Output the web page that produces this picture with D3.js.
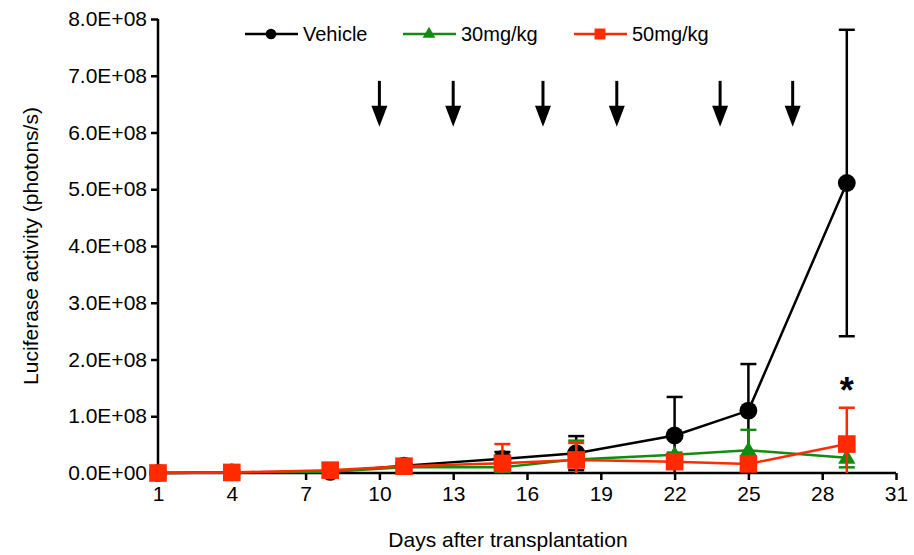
<!DOCTYPE html>
<html>
<head>
<meta charset="utf-8">
<script src="https://cdn.jsdelivr.net/npm/d3@7"></script>
<style>
  body { margin: 0; background: #fff; }
  text { font-family: Arial, "Liberation Sans", sans-serif; fill: #000; }
</style>
</head>
<body>
<svg width="914" height="555"></svg>
<script>
// values in units of 1E+08 photons/s
const days = [1, 4, 8, 11, 15, 18, 22, 25, 29];
const vehicle = [0, 0.01, 0.02, 0.13, 0.25, 0.35, 0.66, 1.10, 5.11];
const vehicleErr = [0, 0, 0.01, 0.02, 0.12, 0.30, 0.68, 0.82, 2.70];
const dose30 = [0, 0.01, 0.02, 0.10, 0.10, 0.24, 0.32, 0.40, 0.27];
const dose30Err = [0, 0, 0.01, 0.02, 0.05, 0.33, 0.04, 0.36, 0.17];
const dose50 = [0, 0.01, 0.05, 0.12, 0.17, 0.23, 0.20, 0.16, 0.51];
const dose50Err = [0, 0, 0.01, 0.02, 0.34, 0.30, 0.05, 0.03, 0.64];
const xTicks = [1, 4, 7, 10, 13, 16, 19, 22, 25, 28, 31];
const yTicks = [0, 1, 2, 3, 4, 5, 6, 7, 8];
const arrowDays = [10, 13, 16.65, 19.65, 23.85, 26.8];
const seriesNames = ['Vehicle', '30mg/kg', '50mg/kg'];

const svg = d3.select('svg');
const margin = { left: 158, right: 18, top: 19, bottom: 82 };
const width = +svg.attr('width');
const height = +svg.attr('height');

const x = d3.scaleLinear().domain([1, 31]).range([margin.left, width - margin.right]);
const y = d3.scaleLinear().domain([0, 8]).range([height - margin.bottom, margin.top]);

const series = [
    { name: seriesNames[0], values: vehicle, err: vehicleErr, color: '#000000', symbol: d3.symbolCircle, size: 250, legendSize: 90 },
    { name: seriesNames[1], values: dose30, err: dose30Err, color: '#118c11', symbol: d3.symbolTriangle, size: 130, legendSize: 70 },
    { name: seriesNames[2], values: dose50, err: dose50Err, color: '#ff2a00', symbol: d3.symbolSquare, size: 310, legendSize: 120 }
];

// axes
const xAxis = svg.append('g')
    .attr('transform', `translate(0,${y(0)})`)
    .call(d3.axisBottom(x).tickValues(xTicks).tickFormat(d3.format('d')).tickSize(7).tickPadding(6));
const yAxis = svg.append('g')
    .attr('transform', `translate(${x(1)},0)`)
    .call(d3.axisLeft(y).tickValues(yTicks).tickFormat(d => d.toFixed(1) + (d === 0 ? 'E+00' : 'E+08')).tickSize(7).tickPadding(4));

[xAxis, yAxis].forEach(a => {
    a.select('.domain').attr('stroke', '#000').attr('stroke-width', 2.5);
    a.selectAll('.tick line').attr('stroke', '#000').attr('stroke-width', 2.5);
    a.selectAll('.tick text').style('font-size', '21px').attr('fill', '#000');
});
// d3 puts the domain path end ticks; draw them plain
xAxis.select('.domain').attr('d', `M${x(1)},0H${x(31)}`);
yAxis.select('.domain').attr('d', `M0,${y(0)}V${y(8)}`);

svg.append('text')
    .attr('x', 508)
    .attr('y', 547)
    .attr('text-anchor', 'middle')
    .style('font-size', '21px')
    .text('Days after transplantation');

svg.append('text')
    .attr('transform', `translate(38,${(y(0) + y(8)) / 2}) rotate(-90)`)
    .attr('text-anchor', 'middle')
    .style('font-size', '21px')
    .text('Luciferase activity (photons/s)');

// treatment arrows
const arrows = svg.append('g').attr('class', 'arrows');
arrowDays.forEach(d => {
    const top = y(6.91), headTop = y(6.47), tip = y(6.1);
    arrows.append('line')
        .attr('x1', x(d)).attr('x2', x(d))
        .attr('y1', top).attr('y2', headTop + 2)
        .attr('stroke', '#000').attr('stroke-width', 3);
    arrows.append('path')
        .attr('d', `M${x(d) - 8},${headTop}L${x(d) + 8},${headTop}L${x(d)},${tip}Z`)
        .attr('fill', '#000');
});

// series
const line = d3.line().x(d => x(d[0])).y(d => y(d[1]));
const capW = 8;

series.forEach(s => {
    const g = svg.append('g').attr('class', 'series');
    const pts = days.map((d, i) => [d, s.values[i], s.err[i]]);

    g.append('path')
        .datum(pts)
        .attr('d', line)
        .attr('fill', 'none')
        .attr('stroke', s.color)
        .attr('stroke-width', 2.5);

    pts.forEach(p => {
        if (p[2] <= 0) return;
        const hi = p[1] + p[2];
        const lo = Math.max(0, p[1] - p[2]);
        g.append('line')
            .attr('x1', x(p[0])).attr('x2', x(p[0]))
            .attr('y1', y(hi)).attr('y2', y(lo))
            .attr('stroke', s.color).attr('stroke-width', 2.5);
        g.append('line')
            .attr('x1', x(p[0]) - capW).attr('x2', x(p[0]) + capW)
            .attr('y1', y(hi)).attr('y2', y(hi))
            .attr('stroke', s.color).attr('stroke-width', 2.5);
        if (lo > 0) {
            g.append('line')
                .attr('x1', x(p[0]) - capW).attr('x2', x(p[0]) + capW)
                .attr('y1', y(lo)).attr('y2', y(lo))
                .attr('stroke', s.color).attr('stroke-width', 2.5);
        }
    });

    g.selectAll('path.mark')
        .data(pts)
        .enter()
        .append('path')
        .attr('class', 'mark')
        .attr('d', d3.symbol().type(s.symbol).size(s.size))
        .attr('transform', d => `translate(${x(d[0])},${y(d[1]) + (s.symbol === d3.symbolTriangle ? 1 : 0)})`)
        .attr('fill', s.color);
});

// significance
svg.append('text')
    .attr('x', x(29))
    .attr('y', y(1.24))
    .attr('text-anchor', 'middle')
    .style('font-size', '36px')
    .style('font-weight', 'bold')
    .text('*');

// legend
const legendX = [245, 403, 574];
const legend = svg.append('g').attr('class', 'legend');
series.forEach((s, i) => {
    const lg = legend.append('g').attr('transform', `translate(${legendX[i]},34)`);
    lg.append('line')
        .attr('x1', 0).attr('x2', 53)
        .attr('stroke', s.color).attr('stroke-width', 2.5);
    lg.append('path')
        .attr('d', d3.symbol().type(s.symbol).size(s.legendSize))
        .attr('transform', 'translate(26,0)')
        .attr('fill', s.color);
    lg.append('text')
        .attr('x', 58)
        .attr('y', 7)
        .style('font-size', '20px')
        .text(s.name);
});
</script>
</body>
</html>
